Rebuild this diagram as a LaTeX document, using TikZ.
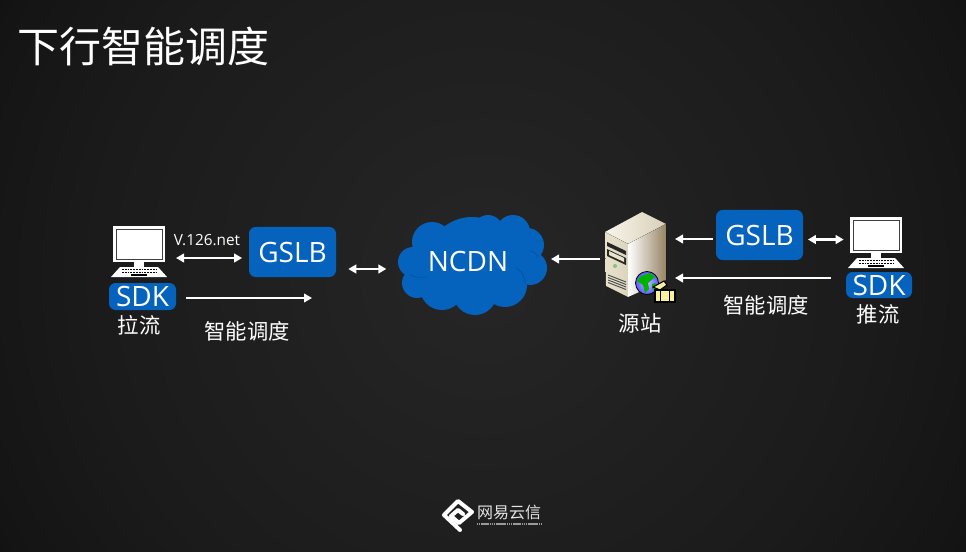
\documentclass[tikz,border=0pt]{standalone}
\usepackage{fontspec}
\setmainfont{Open Sans}
\newfontfamily\cjk{Noto Sans CJK SC}
\usetikzlibrary{positioning}
\usetikzlibrary{arrows.meta}

\definecolor{boxblue}{RGB}{5,99,190}
\definecolor{seamblue}{RGB}{4,84,165}
\definecolor{glowa}{RGB}{38,38,38}
\definecolor{glowb}{RGB}{27,27,27}
\definecolor{glowc}{RGB}{20,20,20}
\definecolor{glowd}{RGB}{2,2,2}
\definecolor{servercream}{RGB}{232,226,205}
\definecolor{serverlight}{RGB}{248,245,235}
\definecolor{servertan}{RGB}{150,132,100}
\definecolor{folderyellow}{RGB}{248,240,160}
\pgfdeclareradialshading{slideglow}{\pgfpointorigin}
    {color(0bp)=(glowa); color(20bp)=(glowb); color(28bp)=(glowc); color(35bp)=(glowd); color(50bp)=(black)}

\def\px{.75pt}

\tikzset{
    blueBox/.style={fill=boxblue, rounded corners=5pt, text=white, inner sep=0pt,
        font=\fontsize{21}{21}\selectfont},
    hollow/.style={inner sep=0pt, outer sep=0pt},
    caption/.style={text=white, inner sep=0pt, font=\cjk\fontsize{16}{16}\selectfont},
    oneway/.style={draw=white, line width=2pt, -{Triangle[length=6pt,width=6.5pt]}},
    twoway/.style={draw=white, line width=2pt,
        {Triangle[length=6pt,width=6.5pt]}-{Triangle[length=6pt,width=6.5pt]}},
    % Computer drawn around the centre of its node
    pcIcon/.pic={
        \fill[white] (-26,-26) rectangle (26,10);
        \draw[black!75, line width=.6pt, fill=white] (-23,-23) rectangle (23,7);
        \fill[white] (-5,10) rectangle (5,16);
        \fill[white] (-19,15) -- (19,15) -- (28,25) -- (-28,25) -- cycle;
        \foreach\r in {17.5,20.5}
            \draw[black, line width=.9pt, dash pattern=on 1.4pt off .7pt]
                (-17,\r) -- (17,\r);
        \draw[black, line width=1pt] (-8,23) -- (8,23);
    },
    % Server with its globe and folder
    serverIcon/.pic={
        \fill[left color=serverlight, right color=servercream!80!servertan]
            (-12,-13) -- (-35,-25) -- (2,-45) -- (26,-33) -- cycle;
        \fill[left color=servercream, right color=servercream!85!servertan]
            (-35,-25) -- (-12,-13) -- (-12,40) -- (-34,29) -- cycle;
        \fill[left color=white, right color=servertan]
            (-12,-13) -- (26,-33) -- (26,23) -- (-12,40) -- cycle;
        \fill[black!85] (-33,-15) -- (-14,-6) -- (-14,-2) -- (-33,-11) -- cycle;
        \fill[black!85] (-33,-8) -- (-14,1) -- (-14,8) -- (-33,-1) -- cycle;
        \fill[servercream] (-31,-6) -- (-16,1) -- (-16,5) -- (-31,-2) -- cycle;
        \fill[black!45!green!50!white] (-25,9) circle (2);
        \foreach\r in {18,20.5,23,25.5}
            \draw[black!70, line width=.7pt] (-32,\r) -- (-14,\r+7);
        \draw[black, line width=.6pt, inner color=blue!25!white, outer color=blue!65!white]
            (7,26) circle (11.5);
        \fill[green!70!black] (1,19) -- (10,16) -- (15,20) -- (8,26) -- (9,32)
            -- (5,36) -- (3,28) -- (-3,24) -- cycle;
        \fill[green!70!black] (12,27) -- (16,26) -- (15,32) -- (12,32) -- cycle;
        \draw[black, line width=.8pt, fill=folderyellow]
            (13,30) -- (24,24) -- (27,28) -- (20,33) -- cycle;
        \draw[black, line width=1.2pt, fill=folderyellow] (15,33) rectangle (35,45);
        \draw[black, line width=.6pt] (20,33) -- (20,45) (29,33) -- (29,45);
    },
}

\begin{document}
\begin{tikzpicture}[x=.75pt, y=-.75pt]

    \useasboundingbox (0,0) rectangle (966,552);
    % A square shading, so that the glow stays round
    \begin{scope}
        \clip (0,0) rectangle (966,552);
        \shade[shading=slideglow] (0,-207) rectangle (966,759);
    \end{scope}

    % Title
    \node[text=white, inner sep=0pt, font=\cjk\fontsize{31.5}{32}\selectfont]
        (title) at (143,47) {下行智能调度};

    % Cloud built from its lobes
    \foreach\x/\y/\r in {413/262/15, 432/242/20, 462/235/15, 488/230/15, 513/232/17,
        527/245/17, 530/268/17, 505/285/22, 475/293/22, 442/288/22, 417/283/15,
        472/262/45, 440/265/25, 510/262/25}
        \fill[boxblue] (\x,\y) circle (\r);
    \draw[seamblue, line width=.6pt] (410,275) to[bend right=15] (427,277);
    \draw[seamblue, line width=.6pt] (516,268) to[bend left=30] (525,283);
    \draw[seamblue, line width=.6pt] (530,251) to[bend left=25] (538,257);

    % Left side
    \node[hollow, minimum width=58*\px, minimum height=52*\px] (pcL) at (139,252) {};
    \pic at (pcL) {pcIcon};
    \node[blueBox, minimum width=67*\px, minimum height=27*\px] (sdkL) at (142.5,296.5) {SDK};
    \node[caption] (pull) at (139,325) {拉流};
    \node[blueBox, minimum width=87*\px, minimum height=50*\px] (gslbL) at (292.5,252) {GSLB};
    \node[text=white, inner sep=0pt, font=\fontsize{11.5}{11}\selectfont] (host) at (207,240) {V.126.net};
    \node[caption] (schedL) at (247,331) {智能调度};
    \coordinate (pullEnd) at (312,298);

    % Centre
    \node[hollow, text=white, minimum width=150*\px, minimum height=100*\px,
        font=\fontsize{21}{21}\selectfont] (cloud) at (468,261) {NCDN};

    % Right side
    \node[hollow, minimum width=70*\px, minimum height=90*\px] (server) at (640,257) {};
    \pic at (server) {serverIcon};
    \node[caption] (origin) at (640,323) {源站};
    \node[blueBox, minimum width=87*\px, minimum height=50*\px] (gslbR) at (759.5,235) {GSLB};
    \node[caption] (schedR) at (766,305) {智能调度};
    \node[hollow, minimum width=58*\px, minimum height=52*\px] (pcR) at (876,243) {};
    \pic at (pcR) {pcIcon};
    \node[blueBox, minimum width=66*\px, minimum height=26*\px] (sdkR) at (879,285) {SDK};
    \node[caption] (push) at (878,314) {推流};

    \begin{scope}
        \draw[twoway, shorten <=6pt, shorten >=5pt]
            ([yshift=-4.5pt]pcL.east) -- ([yshift=-4.5pt]gslbL.west);
        \draw[oneway, shorten <=7.5pt] ([yshift=-1.125pt]sdkL.east) -- (pullEnd);
        \draw[twoway, shorten <=9pt, shorten >=5pt]
            ([yshift=-12.75pt]gslbL.east) -- ([yshift=-6pt]cloud.west);
        \draw[oneway, shorten <=3.5pt, shorten >=6pt]
            ([yshift=-1.5pt]server.west) -- ([yshift=1.5pt]cloud.east);
        \draw[oneway, shorten <=2pt]
            ([yshift=-3pt]gslbR.west) -- ([yshift=13.5pt]server.east);
        \draw[oneway, shorten <=11pt]
            ([yshift=5.25pt]sdkR.west) -- ([yshift=-15.75pt]server.east);
        \draw[twoway, shorten <=3.5pt, shorten >=2.5pt]
            ([yshift=-3.4pt]gslbR.east) -- ([yshift=2.6pt]pcR.west);
    \end{scope}

    % Logo at the bottom
    \draw[white, line width=3pt, line join=round, line cap=round]
        (460,530) -- (444,515) -- (458,501) -- (472,512) -- (459,523) -- (451,516) -- (458,510) -- (463,514);
    \node[text=white!90!black, inner sep=0pt, font=\cjk\fontsize{12}{12}\selectfont]
        (brand) at (509,512) {网易云信};
    \draw[white!60!black, line width=1.5pt, dash pattern=on 1.2pt off .4pt]
        (brand.south west) ++(0,4) -- ([yshift=-3pt]brand.south east);

\end{tikzpicture}
\end{document}
